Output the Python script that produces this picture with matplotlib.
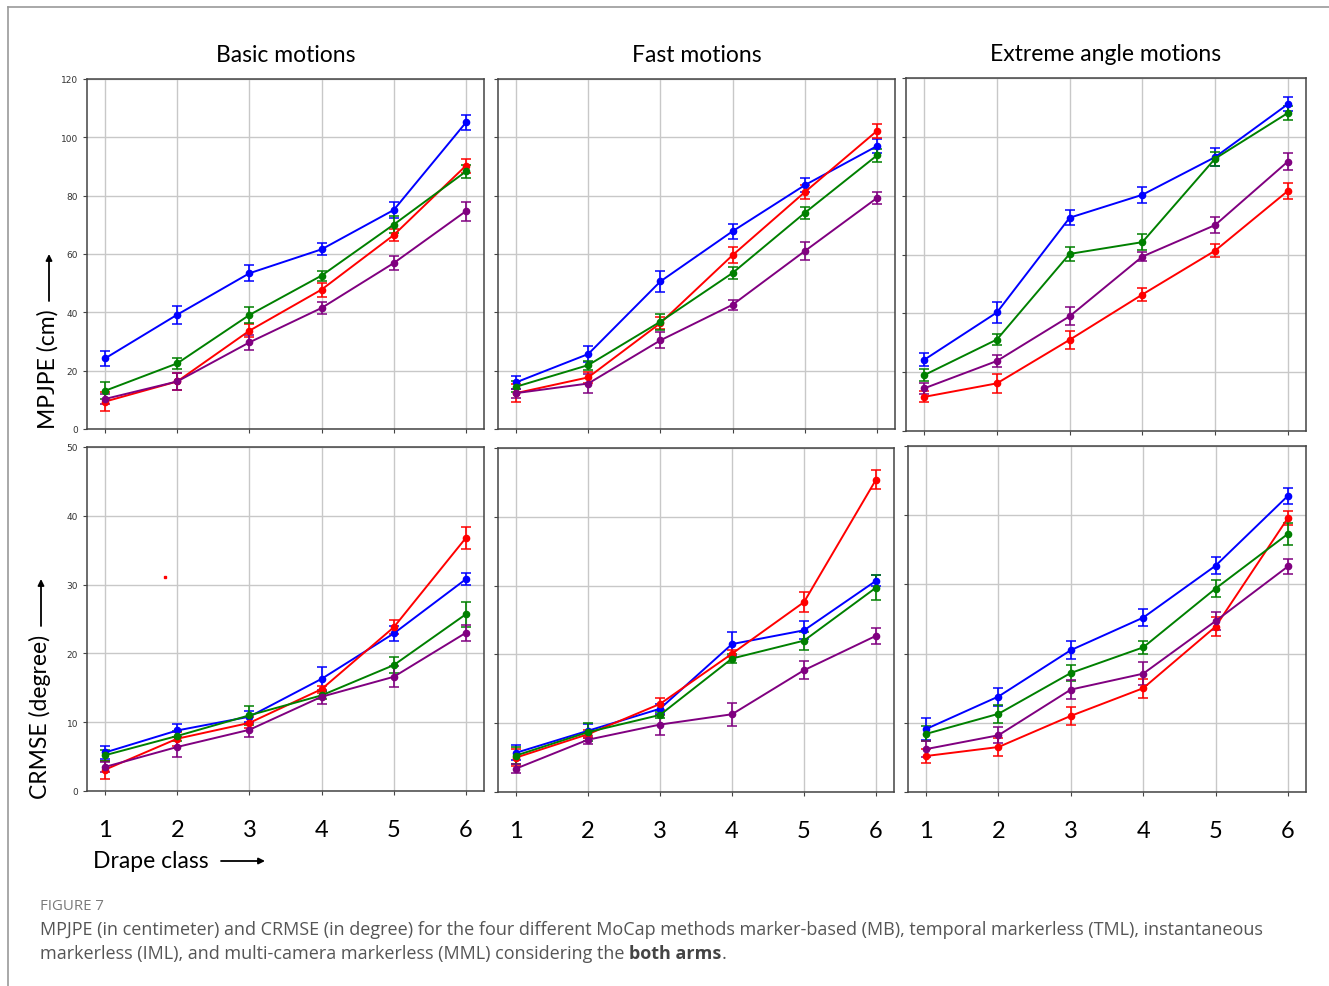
import numpy as np
import matplotlib
matplotlib.use("Agg")
import matplotlib.pyplot as plt
from matplotlib.lines import Line2D

W, H = 1329, 987

classes = [1, 2, 3, 4, 5, 6]
colors = ["blue", "red", "green", "purple"]
titles = ["Basic motions", "Fast motions", "Extreme angle motions"]

# MPJPE (cm), one row per series in the order of `colors`
mpjpe_basic = [[24.2, 39.2, 53.4, 61.6, 75.1, 105.1],
               [9.4, 16.3, 33.7, 47.8, 66.5, 90.3],
               [13.1, 22.5, 39.1, 52.6, 70.1, 88.3],
               [10.3, 16.3, 29.7, 41.5, 56.9, 74.7]]
mpjpe_basic_err = [[2.6, 3.1, 2.7, 2.1, 2.7, 2.6],
                   [3.2, 3.0, 2.3, 2.4, 2.1, 2.4],
                   [2.9, 1.9, 2.9, 1.7, 2.9, 2.2],
                   [1.7, 3.0, 2.7, 2.2, 2.5, 3.3]]
mpjpe_fast = [[16.0, 25.7, 50.6, 67.8, 83.6, 97.0],
              [12.3, 17.7, 36.3, 59.6, 81.2, 102.2],
              [14.5, 21.9, 36.8, 53.5, 74.1, 93.8],
              [12.3, 15.6, 30.4, 42.6, 61.0, 79.2]]
mpjpe_fast_err = [[2.2, 2.7, 3.6, 2.6, 2.3, 2.5],
                  [3.1, 2.0, 2.0, 2.7, 2.3, 2.5],
                  [1.8, 1.5, 2.8, 2.1, 2.0, 2.3],
                  [1.5, 3.1, 2.7, 1.7, 3.1, 2.0]]
mpjpe_extreme = [[24.2, 40.3, 72.5, 80.3, 93.1, 111.1],
                 [11.6, 16.2, 31.0, 46.4, 61.3, 81.6],
                 [19.0, 31.1, 60.2, 64.2, 92.6, 108.1],
                 [14.5, 23.8, 39.0, 59.3, 70.0, 91.6]]
mpjpe_extreme_err = [[2.2, 3.6, 2.6, 2.7, 3.0, 2.3],
                     [1.9, 3.2, 3.1, 2.3, 2.2, 2.6],
                     [2.0, 2.0, 2.4, 2.6, 2.4, 2.3],
                     [1.8, 2.0, 3.0, 1.5, 2.7, 3.0]]

# CRMSE (degree)
crmse_basic = [[5.6, 8.8, 10.8, 16.3, 22.9, 30.8],
               [3.1, 7.6, 9.9, 14.8, 23.8, 36.8],
               [5.2, 8.0, 11.0, 13.9, 18.3, 25.7],
               [3.5, 6.4, 8.9, 13.7, 16.6, 23.0]]
crmse_basic_err = [[1.0, 0.9, 0.8, 1.7, 1.1, 0.9],
                   [1.3, 1.0, 0.8, 0.5, 1.0, 1.6],
                   [0.8, 0.7, 1.4, 0.6, 1.2, 1.8],
                   [0.7, 1.5, 1.0, 1.0, 1.5, 1.2]]
crmse_fast = [[5.7, 8.9, 12.1, 21.5, 23.5, 30.7],
              [5.0, 8.4, 12.8, 20.1, 27.6, 45.4],
              [5.3, 8.7, 11.2, 19.4, 22.0, 29.7],
              [3.4, 7.6, 9.8, 11.3, 17.7, 22.7]]
crmse_fast_err = [[1.1, 1.0, 0.7, 1.7, 1.3, 0.8],
                  [1.2, 0.6, 0.85, 0.5, 1.4, 1.4],
                  [1.2, 1.3, 0.5, 0.6, 1.3, 1.8],
                  [0.6, 0.6, 1.45, 1.7, 1.3, 1.2]]
crmse_extreme = [[9.1, 13.8, 20.5, 25.2, 32.7, 42.8],
                 [5.2, 6.5, 11.0, 15.0, 23.9, 39.6],
                 [8.4, 11.3, 17.2, 20.9, 29.4, 37.3],
                 [6.2, 8.2, 14.8, 17.1, 24.7, 32.6]]
crmse_extreme_err = [[1.6, 1.3, 1.3, 1.2, 1.2, 1.2],
                     [1.0, 1.3, 1.3, 1.4, 1.4, 1.0],
                     [1.1, 1.3, 1.1, 0.95, 1.25, 1.6],
                     [1.15, 1.15, 1.4, 1.7, 1.3, 1.05]]

# stray red dot seen in the basic CRMSE panel
stray_x, stray_y = [1.83], [31.1]

top_data = [(mpjpe_basic, mpjpe_basic_err), (mpjpe_fast, mpjpe_fast_err),
            (mpjpe_extreme, mpjpe_extreme_err)]
bot_data = [(crmse_basic, crmse_basic_err), (crmse_fast, crmse_fast_err),
            (crmse_extreme, crmse_extreme_err)]

# axes boxes in pixels: left, right, top, bottom
top_boxes = [(87, 484, 80, 430), (498, 895, 80, 430), (906, 1306, 79, 432)]
bot_boxes = [(87, 484, 448, 792), (498, 894, 449, 793), (908, 1306, 447, 793)]

txt_font = ["Lato", "DejaVu Sans"]

fig = plt.figure(figsize=(W / 100, H / 100), dpi=100)
fig.patch.set_facecolor("white")


def fx(x):
    return x / W


def fy(y):
    return 1 - y / H


def px_axes(box):
    l, r, t, b = box
    return fig.add_axes([l / W, 1 - b / H, (r - l) / W, (b - t) / H])


def style(ax, ymax, step, show_y, show_x):
    ax.set_xlim(0.75, 6.25)
    ax.set_ylim(0, ymax)
    ax.set_xticks(classes)
    ax.set_yticks(np.arange(0, ymax + 1, step))
    ax.grid(True, color="#c8c8c8", lw=1)
    ax.set_axisbelow(True)
    for s in ax.spines.values():
        s.set_color("#444444")
        s.set_linewidth(1.1)
    ax.tick_params(axis="y", labelsize=6.5, labelcolor="#333333", length=3,
                   color="#444444", labelleft=show_y)
    if show_x:
        ax.tick_params(axis="x", length=3, color="#444444", pad=17,
                       labelsize=17)
        for lab in ax.get_xticklabels():
            lab.set_family(txt_font)
    else:
        ax.tick_params(axis="x", length=3, color="#444444", labelbottom=False)


for i in range(3):
    ax = px_axes(top_boxes[i])
    vals, errs = top_data[i]
    for c, v, e in zip(colors, vals, errs):
        ax.errorbar(classes, v, yerr=e, fmt="-o", color=c, lw=1.4,
                    elinewidth=1.2, capsize=3.5, capthick=1.1, markersize=4.5)
    style(ax, 120, 20, i == 0, False)
    ax.set_title(titles[i], fontsize=16.5, family=txt_font, pad=13)

    ax = px_axes(bot_boxes[i])
    vals, errs = bot_data[i]
    for c, v, e in zip(colors, vals, errs):
        ax.errorbar(classes, v, yerr=e, fmt="-o", color=c, lw=1.4,
                    elinewidth=1.2, capsize=3.5, capthick=1.1, markersize=4.5)
    if i == 0:
        ax.plot(stray_x, stray_y, "s", color="red", markersize=1.5)
    style(ax, 50, 10, i == 0, True)

# axis labels, arrows drawn separately
arrow = dict(arrowstyle="-|>", color="black", lw=1.3, mutation_scale=9,
             shrinkA=0, shrinkB=0)
fig.text(fx(48), fy(369), "MPJPE (cm)", rotation=90, ha="center",
         va="center", fontsize=16.5, family=txt_font)
fig.add_artist(plt.Annotation("", xy=(fx(49), fy(255)),
                              xytext=(fx(49), fy(302)),
                              xycoords="figure fraction",
                              textcoords="figure fraction", arrowprops=arrow))
fig.text(fx(40), fy(717), "CRMSE (degree)", rotation=90, ha="center",
         va="center", fontsize=16.5, family=txt_font)
fig.add_artist(plt.Annotation("", xy=(fx(41), fy(580)),
                              xytext=(fx(41), fy(627)),
                              xycoords="figure fraction",
                              textcoords="figure fraction", arrowprops=arrow))
fig.text(fx(93), fy(862), "Drape class", ha="left", va="center",
         fontsize=16.5, family=txt_font)
fig.add_artist(plt.Annotation("", xy=(fx(265), fy(862)),
                              xytext=(fx(221), fy(862)),
                              xycoords="figure fraction",
                              textcoords="figure fraction", arrowprops=arrow))

# outer frame (top and left edges)
fig.add_artist(Line2D([fx(8), 1], [fy(8), fy(8)], color="#9a9a9a",
                      lw=1.2, transform=fig.transFigure))
fig.add_artist(Line2D([fx(8), fx(8)], [0, fy(8)], color="#9a9a9a",
                      lw=1.2, transform=fig.transFigure))

# caption
cap_font = ["Open Sans", "DejaVu Sans"]
cap_size = 13
fig.text(fx(40), fy(907), "FIGURE 7", fontsize=10.8, color="#7a7a7a",
         family=cap_font, va="center")
fig.text(fx(40), fy(930),
         "MPJPE (in centimeter) and CRMSE (in degree) for the four different "
         "MoCap methods marker-based (MB), temporal markerless (TML), "
         "instantaneous", fontsize=cap_size, color="#555555", family=cap_font,
         va="center")
t2 = fig.text(fx(40), fy(954),
              "markerless (IML), and multi-camera markerless (MML) "
              "considering the ", fontsize=cap_size, color="#555555",
              family=cap_font, va="center")
r = fig.canvas.get_renderer()
bb = t2.get_window_extent(r)
t3 = fig.text(bb.x1 / W, fy(954), "both arms", fontsize=cap_size,
              color="#444444", family=cap_font, weight="bold", va="center")
bb3 = t3.get_window_extent(r)
fig.text(bb3.x1 / W, fy(954), ".", fontsize=cap_size, color="#555555",
         family=cap_font, va="center")

fig.savefig("out.png", dpi=100)
